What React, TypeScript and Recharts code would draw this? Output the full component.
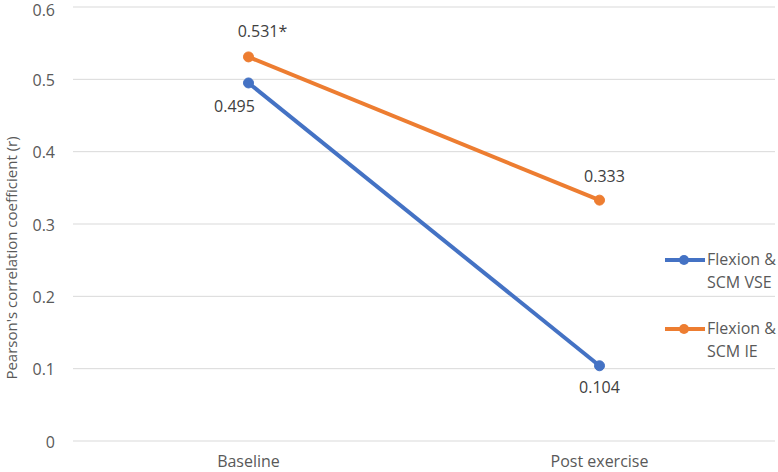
import React from 'react';
import { LineChart, Line, XAxis, YAxis, CartesianGrid, LabelList } from 'recharts';

const categories = ['Baseline', 'Post exercise'];
const vseValues = [0.495, 0.104];
const ieValues = [0.531, 0.333];
const vseLabels = ['0.495', '0.104'];
const ieLabels = ['0.531*', '0.333'];
const yTicks = [0, 0.1, 0.2, 0.3, 0.4, 0.5, 0.6];

const BLUE = '#4472C4';
const ORANGE = '#ED7D31';
const FONT = '"Open Sans", sans-serif';

const data = categories.map((c, i) => ({ x: i + 0.5, name: c, vse: vseValues[i], ie: ieValues[i] }));

const vseOffsets = [
  { dx: -14, dy: 29 },
  { dx: 0, dy: 27 },
];
const ieOffsets = [
  { dx: 14, dy: -20 },
  { dx: 5, dy: -18 },
];

const makeLabel = (labels: string[], offsets: { dx: number; dy: number }[]) => (props: any) => {
  const { x, y, index } = props;
  const o = offsets[index];
  return (
    <text x={x + o.dx} y={y + o.dy} textAnchor="middle" fontSize={16} fill="#404040" fontFamily={FONT}>
      {labels[index]}
    </text>
  );
};

const legendItems = [
  { color: BLUE, lines: ['Flexion &', 'SCM VSE'], top: 248 },
  { color: ORANGE, lines: ['Flexion &', 'SCM IE'], top: 317 },
];

export default function App() {
  return (
    <div style={{ position: 'absolute', left: 0, top: 0, width: 778, height: 472, background: '#fff' }}>
      <LineChart width={778} height={472} data={data} margin={{ top: 7, right: 3, bottom: 0, left: 0 }}>
        <CartesianGrid vertical={false} stroke="#d9d9d9" strokeWidth={1} />
        <XAxis
          type="number"
          dataKey="x"
          domain={[0, 2]}
          ticks={[0.5, 1.5]}
          tickFormatter={(v: number) => categories[Math.round(v - 0.5)]}
          axisLine={false}
          tickLine={false}
          height={31}
          tickMargin={9}
          tick={{ fontSize: 16, fill: '#595959', fontFamily: FONT }}
        />
        <YAxis
          type="number"
          domain={[0, 0.6]}
          ticks={yTicks}
          tickFormatter={(v: number) => (v === 0 ? '0' : v.toFixed(1))}
          axisLine={false}
          tickLine={false}
          width={73}
          tickMargin={12}
          tick={{ fontSize: 16, fill: '#595959', fontFamily: FONT, dy: 1 }}
          label={{
            content: () => (
              <text
                x={11}
                y={258}
                transform="rotate(-90 11 258)"
                textAnchor="middle"
                dominantBaseline="central"
                fontSize={15}
                fill="#595959"
                fontFamily={FONT}
              >
                Pearson's correlation coefficient (r)
              </text>
            ),
          }}
        />
        <Line
          dataKey="vse"
          stroke={BLUE}
          strokeWidth={4}
          dot={{ r: 5, fill: BLUE, stroke: BLUE, strokeWidth: 1 }}
          isAnimationActive={false}
        >
          <LabelList dataKey="vse" content={makeLabel(vseLabels, vseOffsets)} />
        </Line>
        <Line
          dataKey="ie"
          stroke={ORANGE}
          strokeWidth={4}
          dot={{ r: 5, fill: ORANGE, stroke: ORANGE, strokeWidth: 1 }}
          isAnimationActive={false}
        >
          <LabelList dataKey="ie" content={makeLabel(ieLabels, ieOffsets)} />
        </Line>
      </LineChart>
      {legendItems.map((it) => (
        <div
          key={it.lines.join()}
          style={{ position: 'absolute', left: 665, top: it.top, display: 'flex', alignItems: 'flex-start', fontFamily: FONT, fontSize: 16, color: '#595959', lineHeight: '23px' }}
        >
          <svg width={42} height={23} style={{ display: 'block' }}>
            <line x1={0} y1={12} x2={40} y2={12} stroke={it.color} strokeWidth={4} />
            <circle cx={19} cy={12} r={5} fill={it.color} />
          </svg>
          <div>
            {it.lines.map((l) => (
              <div key={l}>{l}</div>
            ))}
          </div>
        </div>
      ))}
    </div>
  );
}
